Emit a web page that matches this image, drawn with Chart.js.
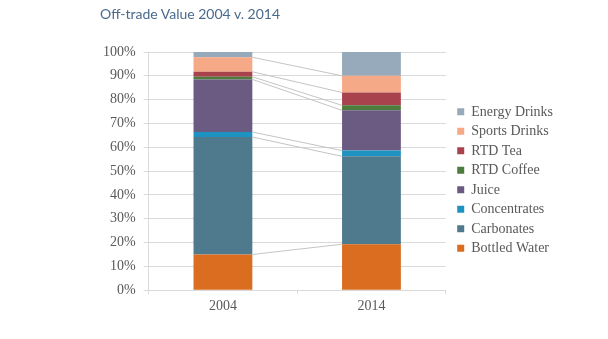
<!DOCTYPE html>
<html>
<head>
<meta charset="utf-8">
<title>Off-trade Value 2004 v. 2014</title>
<script src="https://cdn.jsdelivr.net/npm/chart.js@4.4.0/dist/chart.umd.min.js"></script>
<style>
    body { margin: 0; background: #fff; }
    #wrap { position: relative; width: 608px; height: 339px; }
    #title {
        position: absolute; left: 100px; top: 5px;
        font: 14px Lato, "Open Sans", sans-serif; color: #4a6a8c;
    }
    #chart { position: absolute; left: 0; top: 0; }
</style>
</head>
<body>
<div id="wrap">
    <canvas id="chart" width="608" height="339"></canvas>
    <div id="title">Off-trade Value 2004 v. 2014</div>
</div>
<script>
// 📊 DATA (percent share of off-trade value)
const years = ['2004', '2014'];
const bottledWater = [15.0, 19.3];
const carbonates = [49.3, 36.9];
const concentrates = [2.1, 2.4];
const juice = [22.1, 16.9];
const rtdCoffee = [1.1, 2.1];
const rtdTea = [2.1, 5.4];
const sportsDrinks = [6.1, 7.0];
const energyDrinks = [2.2, 10.0];

const serif = '"Liberation Serif", "Times New Roman", serif';
const textGrey = '#595959';
const gridGrey = '#d9d9d9';

// 🔗 connector lines between the two stacked bars
const connectorPlugin = {
    id: 'connectors',
    afterLayout(chart) {
        // nudge legend right/down to sit where the original does
        const lg = chart.legend;
        lg.left += 6; lg.right += 6;
        lg.top += 9; lg.bottom += 9;
    },
    afterDatasetsDraw(chart) {
        const ctx = chart.ctx;
        ctx.save();
        ctx.strokeStyle = '#c4c4c4';
        ctx.lineWidth = 1;
        // skip the top series: its top is 100% on both bars
        for (let i = 0; i < chart.data.datasets.length - 1; i++) {
            const meta = chart.getDatasetMeta(i);
            const a = meta.data[0], b = meta.data[1];
            ctx.beginPath();
            ctx.moveTo(a.x + a.width / 2, a.y);
            ctx.lineTo(b.x - b.width / 2, b.y);
            ctx.stroke();
        }
        ctx.restore();
    }
};

const series = [
    { label: 'Bottled Water', data: bottledWater, backgroundColor: '#da6d1f' },
    { label: 'Carbonates', data: carbonates, backgroundColor: '#4f7a8d' },
    { label: 'Concentrates', data: concentrates, backgroundColor: '#1e93c2' },
    { label: 'Juice', data: juice, backgroundColor: '#6b5b82' },
    { label: 'RTD Coffee', data: rtdCoffee, backgroundColor: '#4e7c3d' },
    { label: 'RTD Tea', data: rtdTea, backgroundColor: '#a8434e' },
    { label: 'Sports Drinks', data: sportsDrinks, backgroundColor: '#f5a987' },
    { label: 'Energy Drinks', data: energyDrinks, backgroundColor: '#97aabb' }
];

new Chart(document.getElementById('chart'), {
    type: 'bar',
    data: {
        labels: years,
        datasets: series.map(s => ({ ...s, borderWidth: 0, barPercentage: 0.396, categoryPercentage: 1 }))
    },
    options: {
        responsive: false,
        animation: false,
        devicePixelRatio: 1,
        layout: { padding: { top: 52, bottom: 20, left: 95, right: 51 } },
        plugins: {
            title: { display: false },
            tooltip: { enabled: false },
            legend: {
                position: 'right',
                fullSize: false,
                reverse: true,
                labels: {
                    boxWidth: 7,
                    boxHeight: 7,
                    padding: 5.5,
                    color: textGrey,
                    font: { family: serif, size: 14 }
                }
            }
        },
        scales: {
            x: {
                stacked: true,
                grid: { offset: true, drawOnChartArea: false, drawTicks: true, tickLength: 4, color: gridGrey },
                border: { color: gridGrey },
                ticks: { color: textGrey, padding: 4, font: { family: serif, size: 14 } }
            },
            y: {
                stacked: true,
                min: 0,
                max: 100,
                grid: { color: gridGrey, tickLength: 5 },
                border: { color: gridGrey },
                ticks: {
                    stepSize: 10,
                    padding: 8,
                    color: textGrey,
                    font: { family: serif, size: 14 },
                    callback: v => v + '%'
                }
            }
        }
    },
    plugins: [connectorPlugin]
});
</script>
</body>
</html>
